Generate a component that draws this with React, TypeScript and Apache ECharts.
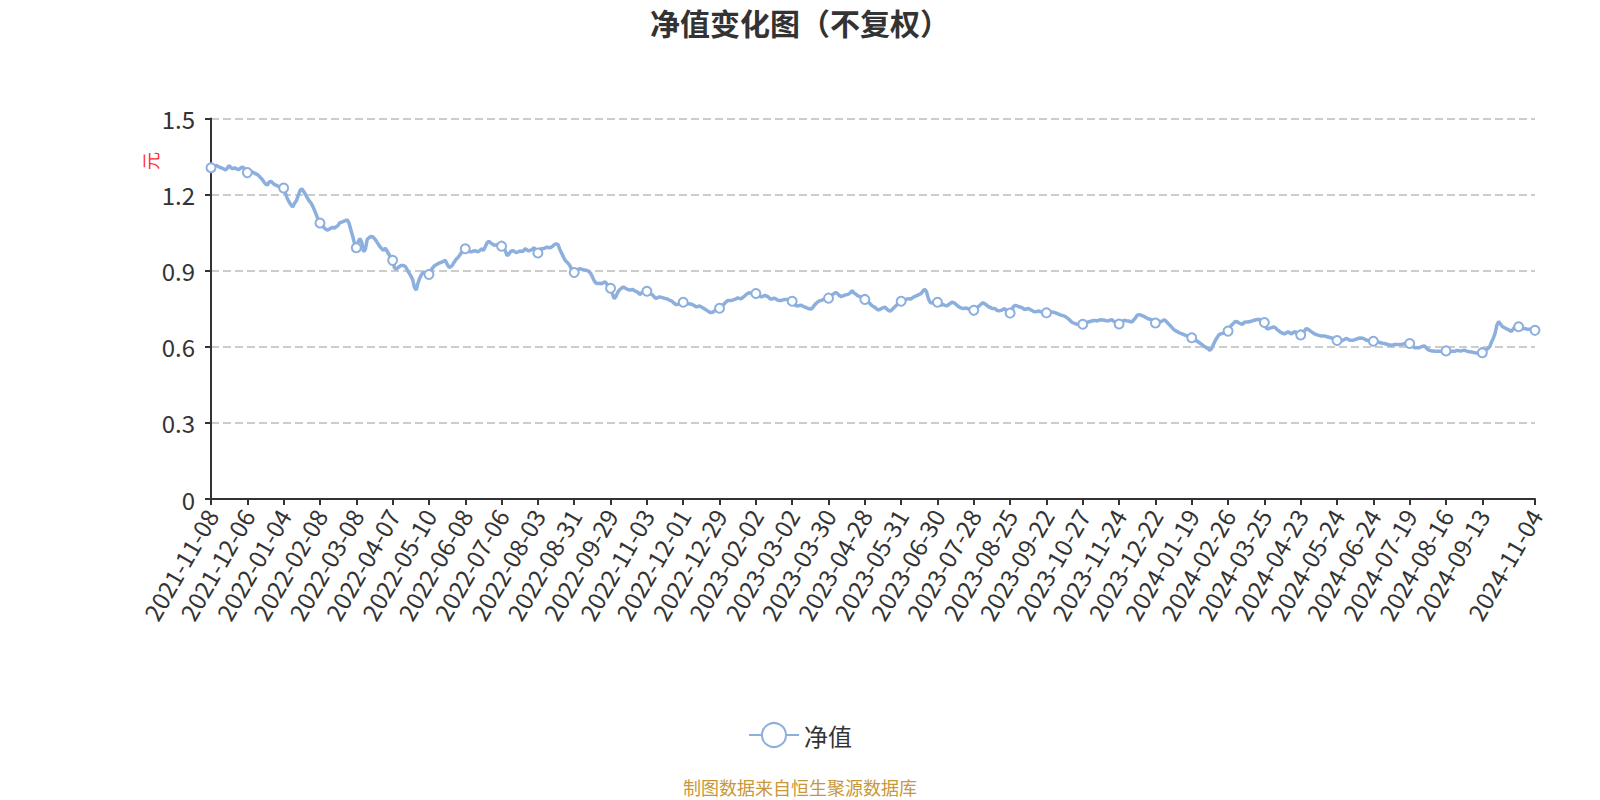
import React, { useEffect, useRef } from 'react';
import * as echarts from 'echarts';

// ---------- data ----------
const titleText = '净值变化图（不复权）';
const seriesName = '净值';
const yAxisUnit = '元';
const sourceNote = '制图数据来自恒生聚源数据库';

const startDate = '2021-11-08';
const endDate = '2024-11-04';
// weekday exchange closures (CN market)
const marketHolidays = [
  '2022-01-03', '2022-01-31', '2022-02-01', '2022-02-02', '2022-02-03', '2022-02-04',
  '2022-04-04', '2022-04-05', '2022-05-02', '2022-05-03', '2022-05-04', '2022-06-03',
  '2022-09-12', '2022-10-03', '2022-10-04', '2022-10-05', '2022-10-06', '2022-10-07',
  '2023-01-02', '2023-01-23', '2023-01-24', '2023-01-25', '2023-01-26', '2023-01-27',
  '2023-04-05', '2023-05-01', '2023-05-02', '2023-05-03', '2023-06-22', '2023-06-23',
  '2023-09-29', '2023-10-02', '2023-10-03', '2023-10-04', '2023-10-05', '2023-10-06',
  '2024-01-01', '2024-02-09', '2024-02-12', '2024-02-13', '2024-02-14', '2024-02-15',
  '2024-02-16', '2024-04-04', '2024-04-05', '2024-05-01', '2024-05-02', '2024-05-03',
  '2024-06-10', '2024-09-16', '2024-09-17', '2024-10-01', '2024-10-02', '2024-10-03',
  '2024-10-04', '2024-10-07',
];
// period-end NAV dates published on weekends
const extraNavDates = ['2022-12-31', '2023-09-30', '2023-12-31', '2024-03-31', '2024-06-30'];

const navValues = [
  1.306, 1.310, 1.313, 1.315, 1.311, 1.308, 1.305, 1.302, 1.297, 1.305, 1.315, 1.306, 1.303, 1.306, 1.302, 1.298, 1.303, 1.308, 1.306, 1.297,
  1.287, 1.291, 1.292, 1.288, 1.285, 1.281, 1.277, 1.269, 1.262, 1.252, 1.242, 1.238, 1.250, 1.253, 1.246, 1.240, 1.237, 1.233, 1.230, 1.228,
  1.226, 1.206, 1.185, 1.172, 1.160, 1.152, 1.166, 1.176, 1.196, 1.216, 1.223, 1.213, 1.201, 1.188, 1.176, 1.168, 1.155, 1.138, 1.120, 1.102,
  1.088, 1.080, 1.072, 1.065, 1.060, 1.064, 1.068, 1.071, 1.068, 1.074, 1.079, 1.090, 1.092, 1.095, 1.098, 1.101, 1.088, 1.062, 1.036, 1.008,
  0.991, 1.013, 1.027, 1.012, 0.975, 0.985, 1.023, 1.030, 1.035, 1.034, 1.027, 1.017, 1.006, 0.995, 0.987, 0.980, 0.989, 0.977, 0.965, 0.953,
  0.941, 0.912, 0.906, 0.913, 0.918, 0.921, 0.921, 0.917, 0.904, 0.892, 0.880, 0.866, 0.835, 0.824, 0.852, 0.872, 0.886, 0.895, 0.891, 0.888,
  0.885, 0.900, 0.911, 0.919, 0.924, 0.928, 0.931, 0.934, 0.937, 0.941, 0.926, 0.914, 0.916, 0.923, 0.935, 0.945, 0.952, 0.962, 0.973, 0.980,
  0.987, 0.982, 0.977, 0.975, 0.976, 0.979, 0.978, 0.974, 0.980, 0.986, 0.980, 0.995, 1.010, 1.016, 1.010, 1.005, 1.001, 1.002, 1.004, 1.001,
  0.997, 0.989, 0.980, 0.960, 0.965, 0.976, 0.979, 0.977, 0.971, 0.974, 0.978, 0.976, 0.978, 0.987, 0.982, 0.978, 0.981, 0.985, 0.991, 0.974,
  0.970, 0.985, 0.987, 0.987, 0.990, 0.993, 0.992, 0.991, 0.996, 1.003, 1.006, 1.004, 0.985, 0.970, 0.955, 0.941, 0.934, 0.926, 0.915, 0.898,
  0.893, 0.900, 0.905, 0.908, 0.906, 0.904, 0.903, 0.901, 0.898, 0.890, 0.876, 0.860, 0.851, 0.850, 0.851, 0.849, 0.853, 0.856, 0.847, 0.838,
  0.831, 0.810, 0.790, 0.799, 0.816, 0.825, 0.831, 0.836, 0.832, 0.828, 0.825, 0.824, 0.827, 0.822, 0.818, 0.816, 0.806, 0.812, 0.820, 0.822,
  0.819, 0.814, 0.809, 0.805, 0.798, 0.791, 0.794, 0.797, 0.795, 0.793, 0.791, 0.790, 0.786, 0.782, 0.779, 0.772, 0.767, 0.767, 0.770, 0.775,
  0.776, 0.773, 0.770, 0.770, 0.769, 0.767, 0.763, 0.758, 0.759, 0.761, 0.757, 0.753, 0.748, 0.744, 0.739, 0.735, 0.736, 0.740, 0.746, 0.750,
  0.752, 0.757, 0.765, 0.773, 0.780, 0.783, 0.783, 0.784, 0.786, 0.789, 0.793, 0.791, 0.790, 0.796, 0.801, 0.808, 0.813, 0.812, 0.810, 0.810,
  0.810, 0.803, 0.799, 0.797, 0.800, 0.803, 0.800, 0.796, 0.789, 0.789, 0.792, 0.789, 0.784, 0.783, 0.783, 0.785, 0.787, 0.787, 0.787, 0.784,
  0.780, 0.768, 0.763, 0.761, 0.763, 0.764, 0.760, 0.757, 0.754, 0.751, 0.749, 0.752, 0.762, 0.770, 0.777, 0.781, 0.783, 0.786, 0.790, 0.788,
  0.792, 0.799, 0.805, 0.810, 0.814, 0.810, 0.802, 0.798, 0.801, 0.804, 0.806, 0.808, 0.813, 0.822, 0.812, 0.808, 0.801, 0.799, 0.797, 0.792,
  0.787, 0.782, 0.777, 0.769, 0.762, 0.758, 0.753, 0.746, 0.746, 0.751, 0.754, 0.757, 0.750, 0.744, 0.741, 0.747, 0.754, 0.761, 0.768, 0.774,
  0.780, 0.782, 0.784, 0.788, 0.790, 0.788, 0.792, 0.797, 0.800, 0.803, 0.807, 0.810, 0.820, 0.827, 0.816, 0.790, 0.775, 0.773, 0.777, 0.777,
  0.776, 0.767, 0.765, 0.767, 0.764, 0.761, 0.766, 0.771, 0.776, 0.774, 0.769, 0.762, 0.757, 0.754, 0.751, 0.752, 0.753, 0.750, 0.747, 0.745,
  0.744, 0.749, 0.755, 0.762, 0.768, 0.774, 0.770, 0.765, 0.758, 0.756, 0.751, 0.751, 0.749, 0.743, 0.742, 0.744, 0.747, 0.751, 0.743, 0.734,
  0.733, 0.749, 0.760, 0.764, 0.761, 0.758, 0.756, 0.752, 0.747, 0.749, 0.751, 0.747, 0.744, 0.739, 0.738, 0.740, 0.741, 0.738, 0.736, 0.735,
  0.734, 0.736, 0.737, 0.737, 0.736, 0.734, 0.731, 0.728, 0.725, 0.723, 0.721, 0.716, 0.711, 0.704, 0.697, 0.694, 0.691, 0.689, 0.689, 0.689,
  0.689, 0.691, 0.695, 0.698, 0.700, 0.702, 0.704, 0.704, 0.702, 0.705, 0.707, 0.706, 0.705, 0.703, 0.702, 0.705, 0.707, 0.701, 0.697, 0.693,
  0.690, 0.697, 0.701, 0.705, 0.703, 0.702, 0.700, 0.698, 0.706, 0.714, 0.725, 0.727, 0.725, 0.722, 0.719, 0.715, 0.711, 0.709, 0.706, 0.698,
  0.694, 0.700, 0.701, 0.699, 0.703, 0.707, 0.700, 0.692, 0.685, 0.677, 0.669, 0.664, 0.660, 0.656, 0.653, 0.650, 0.647, 0.644, 0.642, 0.639,
  0.636, 0.632, 0.627, 0.622, 0.617, 0.612, 0.607, 0.601, 0.597, 0.593, 0.586, 0.594, 0.610, 0.625, 0.637, 0.648, 0.651, 0.653, 0.655, 0.658,
  0.662, 0.678, 0.686, 0.693, 0.700, 0.699, 0.694, 0.691, 0.689, 0.697, 0.698, 0.698, 0.700, 0.701, 0.704, 0.706, 0.708, 0.708, 0.706, 0.701,
  0.696, 0.674, 0.670, 0.674, 0.676, 0.678, 0.676, 0.668, 0.663, 0.657, 0.654, 0.651, 0.655, 0.659, 0.655, 0.651, 0.657, 0.660, 0.651, 0.647,
  0.647, 0.650, 0.662, 0.672, 0.670, 0.664, 0.659, 0.654, 0.650, 0.647, 0.645, 0.643, 0.643, 0.643, 0.641, 0.639, 0.637, 0.635, 0.632, 0.628,
  0.625, 0.623, 0.623, 0.625, 0.629, 0.633, 0.630, 0.626, 0.626, 0.626, 0.629, 0.631, 0.634, 0.635, 0.634, 0.631, 0.627, 0.625, 0.624, 0.622,
  0.622, 0.621, 0.619, 0.618, 0.616, 0.614, 0.613, 0.611, 0.609, 0.607, 0.606, 0.608, 0.609, 0.609, 0.609, 0.609, 0.610, 0.612, 0.613, 0.613,
  0.613, 0.606, 0.600, 0.596, 0.596, 0.596, 0.599, 0.602, 0.604, 0.597, 0.590, 0.586, 0.584, 0.584, 0.583, 0.583, 0.583, 0.583, 0.583, 0.584,
  0.584, 0.584, 0.584, 0.583, 0.583, 0.583, 0.586, 0.585, 0.583, 0.585, 0.587, 0.584, 0.582, 0.581, 0.580, 0.578, 0.577, 0.575, 0.575, 0.577,
  0.577, 0.582, 0.587, 0.593, 0.600, 0.618, 0.633, 0.653, 0.685, 0.700, 0.690, 0.680, 0.676, 0.672, 0.669, 0.665, 0.661, 0.670, 0.680, 0.681,
  0.679, 0.674, 0.672, 0.672, 0.671, 0.669, 0.669, 0.669, 0.667, 0.665,
];

const yMin = 0;
const yMax = 1.5;
const yStep = 0.3;

// ---------- helpers ----------
function buildTradingDates(): string[] {
  const out: string[] = [];
  const hol = new Set(marketHolidays);
  const extra = new Set(extraNavDates);
  const d = new Date(startDate + 'T00:00:00Z');
  const end = new Date(endDate + 'T00:00:00Z');
  while (d.getTime() <= end.getTime()) {
    const s = d.toISOString().slice(0, 10);
    const wd = d.getUTCDay();
    const isWeekday = wd !== 0 && wd !== 6;
    if ((isWeekday && !hol.has(s)) || extra.has(s)) out.push(s);
    d.setUTCDate(d.getUTCDate() + 1);
  }
  return out;
}

const FONT = '"Noto Sans CJK SC", "Noto Sans", sans-serif';
const LINE_COLOR = '#8cafde';

export default function App() {
  const ref = useRef<HTMLDivElement>(null);

  useEffect(() => {
    if (!ref.current) return;
    const chart = echarts.init(ref.current, undefined, { renderer: 'svg' });
    const dates = buildTradingDates().slice(0, navValues.length);

    chart.setOption({
      animation: false,
      backgroundColor: '#ffffff',
      textStyle: { fontFamily: FONT },
      title: {
        text: titleText,
        left: 'center',
        top: 2,
        textStyle: { fontSize: 30, fontWeight: 'bold', color: '#333333', fontFamily: FONT },
      },
      legend: {
        data: [seriesName],
        left: 'center',
        top: 717,
        itemWidth: 50,
        itemHeight: 30,
        textStyle: { fontSize: 24, color: '#333333', fontFamily: FONT },
      },
      grid: {
        left: 211,
        right: 65,
        top: 118.6,
        bottom: 301,
        containLabel: false,
        outerBoundsMode: 'none',
      },
      xAxis: {
        type: 'category',
        data: dates,
        boundaryGap: false,
        axisLine: { show: true, lineStyle: { color: '#333333', width: 2 } },
        axisTick: { show: true, length: 6, lineStyle: { color: '#333333', width: 2 } },
        axisLabel: {
          interval: 19,
          showMaxLabel: true,
          rotate: 60,
          margin: 12,
          fontSize: 24,
          color: '#333333',
          fontFamily: FONT,
        },
        splitLine: { show: false },
      },
      yAxis: {
        type: 'value',
        min: yMin,
        max: yMax,
        interval: yStep,
        axisLine: { show: true, lineStyle: { color: '#333333', width: 2 } },
        axisTick: { show: true, length: 6, lineStyle: { color: '#333333', width: 2 } },
        axisLabel: { fontSize: 24, color: '#333333', margin: 16, fontFamily: FONT },
        splitLine: { show: true, lineStyle: { type: 'dashed', color: '#cccccc', width: 2 } },
      },
      graphic: [
        {
          type: 'text',
          x: 150,
          y: 161,
          rotation: Math.PI / 2,
          style: {
            text: yAxisUnit,
            fill: '#ff2a2a',
            fontSize: 18,
            fontFamily: FONT,
            align: 'center',
            verticalAlign: 'middle',
          },
        },
        {
          type: 'text',
          x: 800,
          y: 787,
          style: {
            text: sourceNote,
            fill: '#c8973a',
            fontSize: 18,
            fontFamily: FONT,
            align: 'center',
            verticalAlign: 'middle',
          },
        },
      ],
      series: [
        {
          name: seriesName,
          type: 'line',
          data: navValues,
          symbol: 'emptyCircle',
          symbolSize: 9,
          showAllSymbol: 'auto',
          lineStyle: { color: LINE_COLOR, width: 3.5 },
          itemStyle: { color: LINE_COLOR, borderWidth: 2 },
        },
      ],
    });

    return () => chart.dispose();
  }, []);

  return (
    <div
      ref={ref}
      style={{ position: 'absolute', left: 0, top: 0, width: 1600, height: 800 }}
    />
  );
}
